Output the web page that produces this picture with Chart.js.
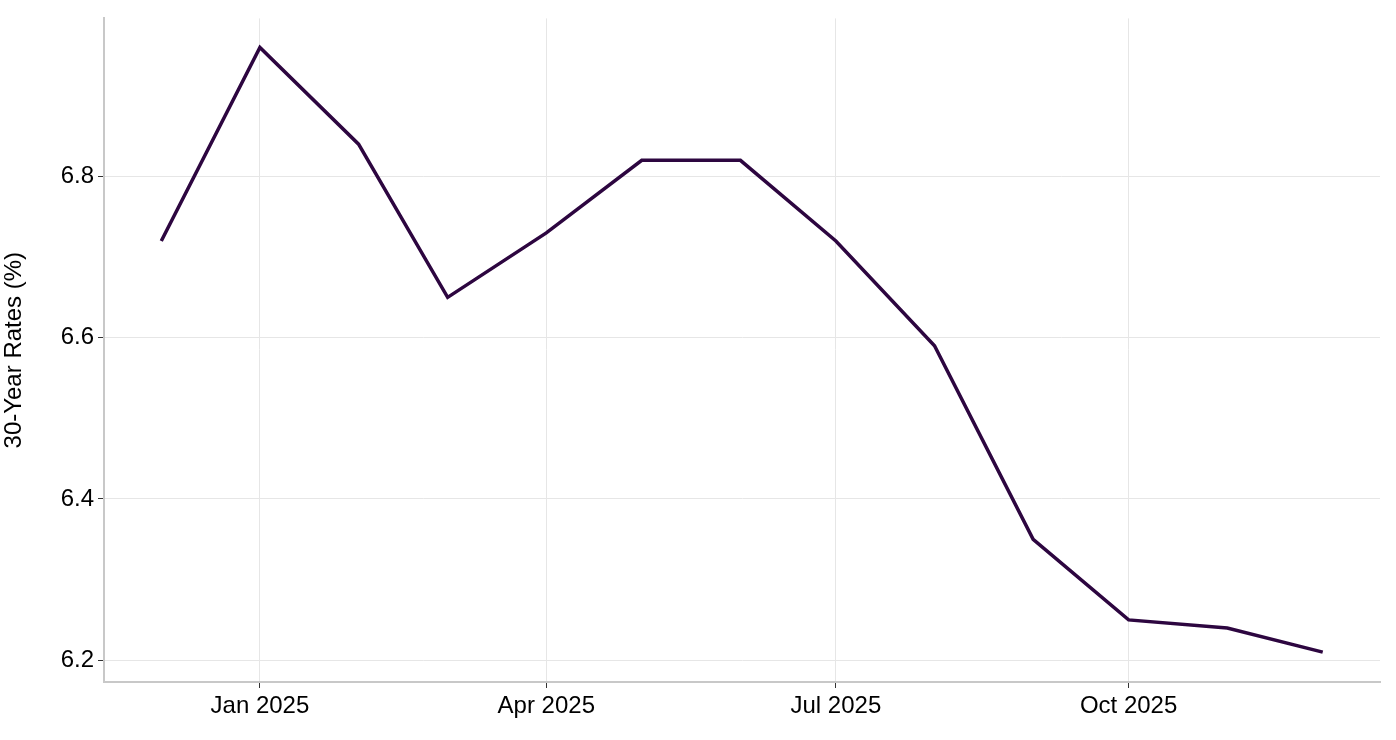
<!DOCTYPE html>
<html><head><meta charset="utf-8">
<script src="https://cdn.jsdelivr.net/npm/chart.js@4/dist/chart.umd.min.js"></script>
<style>html,body{margin:0;padding:0;background:#fff}#wrap{width:1396px;height:740px}</style>
</head><body><div id="wrap"><canvas id="c"></canvas></div>
<script>
// days since 2025-01-01 for the first of each month
const months = ["Dec 2024","Jan 2025","Feb 2025","Mar 2025","Apr 2025","May 2025","Jun 2025","Jul 2025","Aug 2025","Sep 2025","Oct 2025","Nov 2025","Dec 2025"];
const dayOffsets = [-31,0,31,59,90,120,151,181,212,243,273,304,334];
const rates = [6.72,6.96,6.84,6.65,6.73,6.82,6.82,6.72,6.59,6.35,6.25,6.24,6.21];
const xTickValues = [0,90,181,273];
const xTickLabels = ["Jan 2025","Apr 2025","Jul 2025","Oct 2025"];
const yTickValues = [6.2,6.4,6.6,6.8];

const font = {family:"'Liberation Sans', Arial, sans-serif", size:24};
new Chart(document.getElementById('c'), {
  type:'line',
  data:{datasets:[{data:dayOffsets.map((d,i)=>({x:d,y:rates[i]})),borderColor:'#2d0640',borderWidth:3.5,pointRadius:0,tension:0,fill:false}]},
  options:{
    responsive:true,maintainAspectRatio:false,animation:false,
    layout:{padding:{top:15,right:16,left:0,bottom:0}},
    plugins:{legend:{display:false},tooltip:{enabled:false}},
    scales:{
      x:{type:'linear',min:-49,max:352,
        afterBuildTicks:s=>{s.ticks=xTickValues.map(v=>({value:v}));},
        afterFit:s=>{s.height=58;},
        ticks:{color:'#000',font,padding:4,maxRotation:0,autoSkip:false,
          callback:(v)=>{const i=xTickValues.indexOf(v);return i>=0?xTickLabels[i]:'';}},
        grid:{color:'#e6e6e6',lineWidth:1,tickLength:6,tickColor:'#333'},
        border:{color:'#c8c8c8',width:2}},
      y:{min:6.173,max:6.996,
        afterBuildTicks:s=>{s.ticks=yTickValues.map(v=>({value:v}));},
        afterFit:s=>{s.width=104;},
        title:{display:true,text:'30-Year Rates (%)',color:'#000',font,padding:{top:0,bottom:4}},
        ticks:{color:'#000',font,padding:4,callback:v=>v.toFixed(1)},
        grid:{color:'#e6e6e6',lineWidth:1,tickLength:6,tickColor:'#333'},
        border:{color:'#c8c8c8',width:2}}
    }
  }
});
</script></body></html>
